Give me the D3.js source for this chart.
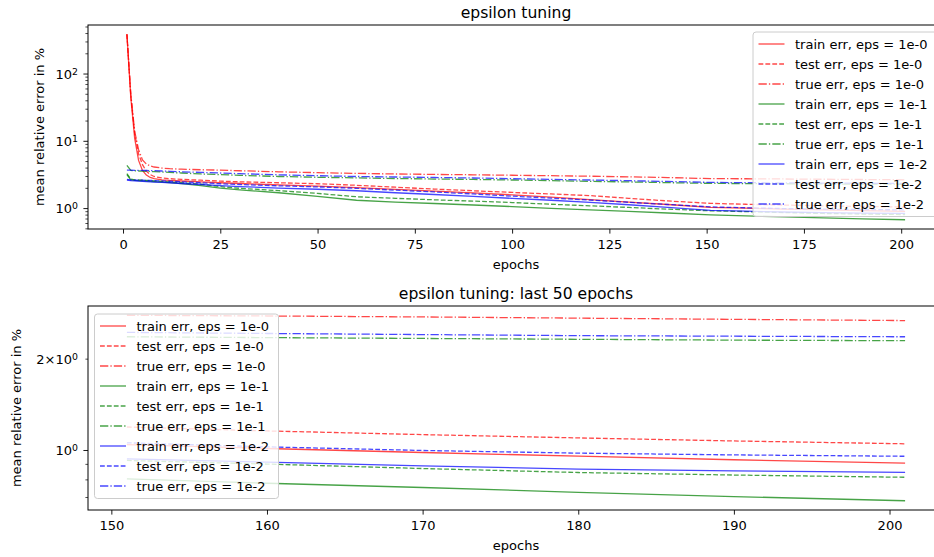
<!DOCTYPE html>
<html>
<head>
<meta charset="utf-8">
<script src="https://cdn.jsdelivr.net/npm/d3@7"></script>
<style>
  body { margin: 0; background: #fff; }
  svg { display: block; }
  text { font-family: "DejaVu Sans", sans-serif; fill: #000; }
</style>
</head>
<body>
<svg id="chart" width="934" height="557"></svg>
<script>
// Epochs at which the error curves were recorded
const epochs = [1,2,3,4,5,6,7,8,10,12,15,20,25,30,40,50,60,70,80,90,100,110,120,130,140,151,160,170,180,190,201];

// eps = 1e-0
const trainE0 = [390,45,11,5.2,3.7,3.15,2.9,2.78,2.68,2.62,2.57,2.5,2.42,2.36,2.25,2.16,2.05,1.93,1.82,1.71,1.6,1.48,1.36,1.25,1.15,1.045,1.015,0.985,0.958,0.932,0.908];
const testE0  = [390,48,13,6.5,4.5,3.6,3.2,3.0,2.85,2.78,2.72,2.64,2.56,2.5,2.42,2.34,2.22,2.08,1.95,1.84,1.74,1.65,1.56,1.42,1.3,1.195,1.16,1.128,1.1,1.075,1.052];
const trueE0  = [390,50,14,7.5,5.3,4.6,4.3,4.15,4.0,3.92,3.85,3.78,3.73,3.65,3.52,3.42,3.34,3.27,3.22,3.18,3.13,3.08,3.03,2.96,2.89,2.79,2.775,2.755,2.73,2.705,2.68];
// eps = 1e-1
const trainE1 = [3.2,2.68,2.62,2.6,2.58,2.56,2.54,2.52,2.48,2.43,2.35,2.2,2.02,1.9,1.72,1.52,1.33,1.25,1.19,1.13,1.07,1.01,0.96,0.91,0.86,0.806,0.78,0.755,0.728,0.705,0.683];
const testE1  = [3.3,2.75,2.68,2.66,2.64,2.62,2.6,2.58,2.54,2.5,2.42,2.3,2.12,2.0,1.85,1.68,1.5,1.42,1.35,1.29,1.23,1.16,1.1,1.04,0.98,0.927,0.902,0.872,0.846,0.83,0.816];
const trueE1  = [4.4,3.7,3.65,3.62,3.6,3.58,3.56,3.54,3.5,3.45,3.38,3.27,3.2,3.12,3.0,2.92,2.86,2.8,2.75,2.71,2.66,2.6,2.54,2.49,2.43,2.37,2.355,2.34,2.325,2.31,2.3];
// eps = 1e-2
const trainE2 = [2.65,2.6,2.58,2.56,2.54,2.52,2.5,2.48,2.45,2.42,2.36,2.28,2.2,2.12,2.02,1.94,1.84,1.72,1.62,1.52,1.42,1.33,1.24,1.14,1.04,0.939,0.915,0.89,0.868,0.857,0.847];
const testE2  = [2.72,2.68,2.66,2.65,2.64,2.63,2.62,2.61,2.58,2.55,2.5,2.42,2.34,2.28,2.18,2.1,2.0,1.88,1.77,1.65,1.53,1.43,1.34,1.24,1.15,1.06,1.028,1.0,0.98,0.967,0.957];
const trueE2  = [3.73,3.72,3.71,3.7,3.69,3.68,3.67,3.66,3.62,3.58,3.52,3.45,3.38,3.3,3.18,3.08,3.0,2.95,2.9,2.85,2.78,2.72,2.66,2.6,2.53,2.45,2.43,2.41,2.39,2.38,2.37];

const seriesLabels = [
  "train err, eps = 1e-0", "test err, eps = 1e-0", "true err, eps = 1e-0",
  "train err, eps = 1e-1", "test err, eps = 1e-1", "true err, eps = 1e-1",
  "train err, eps = 1e-2", "test err, eps = 1e-2", "true err, eps = 1e-2"
];
const seriesValues = [trainE0, testE0, trueE0, trainE1, testE1, trueE1, trainE2, testE2, trueE2];
const seriesColors = ["#ff0000","#ff0000","#ff0000","#008000","#008000","#008000","#0000ff","#0000ff","#0000ff"];
const seriesKinds  = ["solid","dashed","dashdot","solid","dashed","dashdot","solid","dashed","dashdot"];

const topXTicks = [0,25,50,75,100,125,150,175,200];
const bottomXTicks = [150,160,170,180,190,200];
const lastEpochsFrom = 151;

const DASH = { solid: null, dashed: "4.8,2.1", dashdot: "8.3,2.1,1.3,2.1" };
const LINE_W = 1.3, LINE_ALPHA = 0.72;
const FONT = 13, TITLE_FONT = 15.6;
const TICK_MAJ = 4.6, TICK_MIN = 2.6;

const svg = d3.select("#chart");

const series = seriesLabels.map((label, i) => ({
  label, color: seriesColors[i], dash: DASH[seriesKinds[i]],
  points: epochs.map((e, j) => ({ e, v: seriesValues[i][j] }))
}));

function supLabel(sel, base, sup) {
  sel.append("tspan").text(base);
  sel.append("tspan").attr("dy", "-0.45em").attr("font-size", "0.72em").text(sup);
}

function drawPanel(opt) {
  const { box, title, xTicks, fromEpoch, yLabelX, legendPos } = opt;
  const data = series.map(s => ({ ...s, points: s.points.filter(p => p.e >= fromEpoch) }));
  const allE = data[0].points.map(p => p.e);
  const allV = data.flatMap(s => s.points.map(p => p.v));

  // 5% margins, log margins on y
  const eMin = d3.min(allE), eMax = d3.max(allE), eM = (eMax - eMin) * 0.05;
  const lMin = Math.log10(d3.min(allV)), lMax = Math.log10(d3.max(allV)), lM = (lMax - lMin) * 0.05;

  const x = d3.scaleLinear().domain([eMin - eM, eMax + eM]).range([box.l, box.r]);
  const y = d3.scaleLog().domain([Math.pow(10, lMin - lM), Math.pow(10, lMax + lM)]).range([box.b, box.t]);
  const [yLo, yHi] = y.domain();

  const g = svg.append("g");
  const clipId = "clip" + Math.round(box.t);
  g.append("clipPath").attr("id", clipId)
    .append("rect").attr("x", box.l).attr("y", box.t).attr("width", box.r - box.l).attr("height", box.b - box.t);

  // curves
  const line = d3.line().x(p => x(p.e)).y(p => y(p.v));
  g.append("g").attr("clip-path", `url(#${clipId})`)
    .selectAll("path").data(data).join("path")
    .attr("d", s => line(s.points))
    .attr("fill", "none")
    .attr("stroke", s => s.color)
    .attr("stroke-opacity", LINE_ALPHA)
    .attr("stroke-width", LINE_W)
    .attr("stroke-dasharray", s => s.dash);

  // x axis
  const xAxis = d3.axisBottom(x).tickValues(xTicks).tickFormat(d3.format("d"))
    .tickSizeInner(TICK_MAJ).tickSizeOuter(0).tickPadding(6.5);
  const xg = g.append("g").attr("transform", `translate(0,${box.b})`).call(xAxis);
  xg.select(".domain").remove();
  xg.selectAll("text").attr("font-size", FONT).attr("font-family", "DejaVu Sans");
  xg.selectAll("line").attr("stroke", "#000").attr("stroke-width", 0.9);

  // y axis: major + minor log ticks
  const major = [], minor = [];
  for (let k = -2; k <= 4; k++) {
    for (let m = 1; m <= 9; m++) {
      const v = m * Math.pow(10, k);
      if (v < yLo * 1.0001 || v > yHi * 0.9999) continue;
      (m === 1 ? major : minor).push(v);
    }
  }
  const spanDec = Math.log10(yHi) - Math.log10(yLo);
  const yg = g.append("g");
  yg.selectAll("line.maj").data(major).join("line")
    .attr("x1", box.l - TICK_MAJ).attr("x2", box.l)
    .attr("y1", d => y(d)).attr("y2", d => y(d))
    .attr("stroke", "#000").attr("stroke-width", 0.9);
  yg.selectAll("line.min").data(minor).join("line")
    .attr("x1", box.l - TICK_MIN).attr("x2", box.l)
    .attr("y1", d => y(d)).attr("y2", d => y(d))
    .attr("stroke", "#000").attr("stroke-width", 0.7);
  // labels: majors always; for a short range, the 2x minor tick too
  const labelled = major.map(v => ({ v, base: "10", sup: String(Math.round(Math.log10(v))) }));
  if (spanDec < 1) {
    minor.filter(v => Math.abs(v / Math.pow(10, Math.floor(Math.log10(v) + 1e-9)) - 2) < 1e-6)
      .forEach(v => {
        const k = Math.floor(Math.log10(v) + 1e-9);
        labelled.push({ v, base: "2\u00d710", sup: String(k) });
      });
  }
  yg.selectAll("text").data(labelled).join("text")
    .attr("x", box.l - TICK_MAJ - 5.5)
    .attr("y", d => y(d.v))
    .attr("dy", "0.36em")
    .attr("text-anchor", "end")
    .attr("font-size", FONT)
    .each(function (d) { supLabel(d3.select(this), d.base, d.sup); });

  // spines
  g.append("rect").attr("x", box.l).attr("y", box.t)
    .attr("width", box.r - box.l).attr("height", box.b - box.t)
    .attr("fill", "none").attr("stroke", "#000").attr("stroke-width", 1);

  // titles and axis labels
  const cx = (box.l + box.r) / 2;
  g.append("text").attr("x", cx).attr("y", box.t - 7.5).attr("text-anchor", "middle")
    .attr("font-size", TITLE_FONT).text(title);
  g.append("text").attr("x", cx).attr("y", box.b + 39.5).attr("text-anchor", "middle")
    .attr("font-size", FONT).text("epochs");
  g.append("text")
    .attr("transform", `translate(${yLabelX},${(box.t + box.b) / 2}) rotate(-90)`)
    .attr("text-anchor", "middle").attr("font-size", FONT)
    .text("mean relative error in %");

  // legend
  const lg = g.append("g").attr("transform", `translate(${legendPos.x},${legendPos.y})`);
  const rowH = 20, lw = 184, lh = 12 + rowH * (series.length - 1) + 12.5;
  lg.append("rect").attr("width", lw).attr("height", lh).attr("rx", 3)
    .attr("fill", "#fff").attr("fill-opacity", 0.8)
    .attr("stroke", "#cccccc").attr("stroke-width", 1);
  const rows = lg.selectAll("g.row").data(series).join("g")
    .attr("transform", (d, i) => `translate(0,${12 + i * rowH})`);
  rows.append("line").attr("x1", 5.5).attr("x2", 31.5).attr("y1", 0).attr("y2", 0)
    .attr("stroke", d => d.color).attr("stroke-opacity", LINE_ALPHA)
    .attr("stroke-width", LINE_W).attr("stroke-dasharray", d => d.dash);
  rows.append("text").attr("x", 42).attr("y", 0).attr("dy", "0.36em")
    .attr("font-size", FONT).text(d => d.label);
}

drawPanel({
  box: { l: 88, r: 944, t: 25, b: 229 },
  title: "epsilon tuning",
  xTicks: topXTicks,
  fromEpoch: 1,
  yLabelX: 44,
  legendPos: { x: 753, y: 32 }
});

drawPanel({
  box: { l: 88, r: 944, t: 306, b: 510 },
  title: "epsilon tuning: last 50 epochs",
  xTicks: bottomXTicks,
  fromEpoch: lastEpochsFrom,
  yLabelX: 21,
  legendPos: { x: 94.5, y: 314 }
});
</script>
</body>
</html>
